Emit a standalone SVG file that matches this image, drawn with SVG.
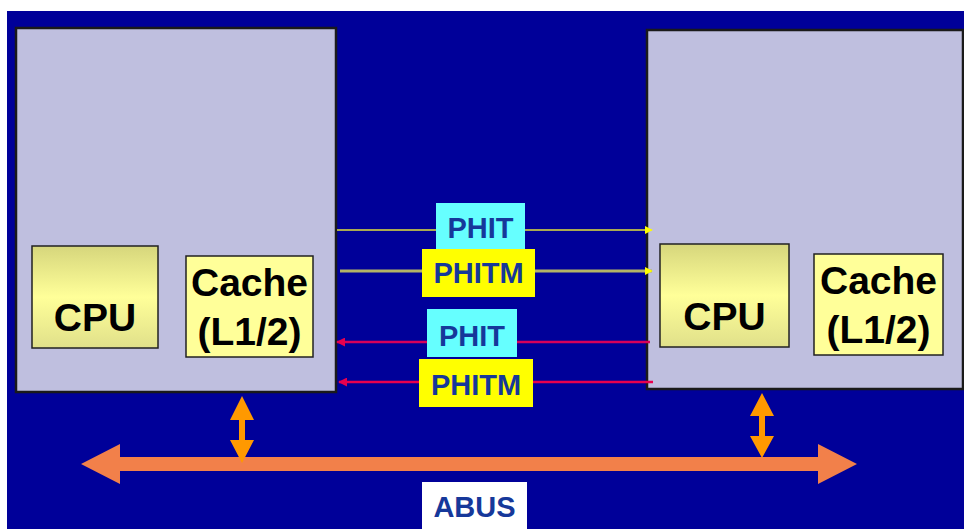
<svg xmlns="http://www.w3.org/2000/svg" width="964" height="529" viewBox="0 0 964 529">
<defs>
<linearGradient id="cpuGrad" x1="0" y1="0" x2="0" y2="1">
<stop offset="0" stop-color="#D6D67C"/>
<stop offset="0.5" stop-color="#FFFF99"/>
<stop offset="1" stop-color="#E0E08A"/>
</linearGradient>
<marker id="arrY" viewBox="0 0 10 10" refX="9" refY="5" markerWidth="8" markerHeight="8" markerUnits="userSpaceOnUse" orient="auto"><path d="M0,0 L10,5 L0,10 z" fill="#FFFF00"/></marker>
<marker id="arrR" viewBox="0 0 10 10" refX="9" refY="5" markerWidth="9" markerHeight="9" markerUnits="userSpaceOnUse" orient="auto"><path d="M0,0 L10,5 L0,10 z" fill="#E8004E"/></marker>
</defs>
<style>
.node{fill:#BFBFDF;stroke:#1a1a1a;stroke-width:2.5}
.cpu{fill:url(#cpuGrad);stroke:#222;stroke-width:1.5}
.cache{fill:#FFFF99;stroke:#222;stroke-width:1.5}
.big{font-family:"Liberation Sans",Arial,sans-serif;font-weight:bold;font-size:39px;fill:#000;text-anchor:middle}
.lbl{font-family:"Liberation Sans",Arial,sans-serif;font-weight:bold;font-size:29px;fill:#16389A;text-anchor:middle}
.cyan{fill:#66FFFF}
.yel{fill:#FFFF00}
.bus{fill:#F2804A}
.vbus{fill:#FF9900}
</style>
<rect x="7" y="11" width="957" height="518" fill="#000099"/>
<g id="node-left">
<rect x="16" y="28" width="320" height="364" class="node"/>
<rect x="32" y="246" width="126" height="102" class="cpu"/>
<text x="95" y="331" class="big">CPU</text>
<rect x="186" y="256" width="127" height="101" class="cache"/>
<text x="249.5" y="296" class="big">Cache</text>
<text x="249.5" y="345" class="big">(L1/2)</text>
</g>
<g id="node-right">
<rect x="647" y="30" width="316" height="359" class="node"/>
<rect x="660" y="244" width="129" height="103" class="cpu"/>
<text x="724.5" y="330" class="big">CPU</text>
<rect x="814" y="254" width="129" height="101" class="cache"/>
<text x="878.5" y="294" class="big">Cache</text>
<text x="878.5" y="343" class="big">(L1/2)</text>
</g>
<g id="connectors">
<line x1="337" y1="230" x2="652" y2="230" stroke="#E2E23A" stroke-width="1.5" marker-end="url(#arrY)"/>
<line x1="340" y1="271" x2="652" y2="271" stroke="#B3B366" stroke-width="3" marker-end="url(#arrY)"/>
<line x1="650" y1="342" x2="337" y2="342" stroke="#D8005A" stroke-width="2.5" marker-end="url(#arrR)"/>
<line x1="653" y1="382" x2="339" y2="382" stroke="#E8004E" stroke-width="2.5" marker-end="url(#arrR)"/>
<path class="bus" d="M81,464 L120,444 L120,457 L818,457 L818,444 L857,464 L818,484 L818,471 L120,471 L120,484 Z"/>
<path class="vbus" d="M242,396 L254,420 L245,420 L245,440 L254,440 L242,463 L230,440 L239,440 L239,420 L230,420 Z"/>
<path class="vbus" d="M762,393 L774,416 L765,416 L765,436 L774,436 L762,458 L750,436 L759,436 L759,416 L750,416 Z"/>
</g>
<g id="label-phit1">
<rect x="436" y="203" width="89" height="46" class="cyan"/>
<text x="480.5" y="238" class="lbl">PHIT</text>
</g>
<g id="label-phitm1">
<rect x="422" y="249" width="113" height="48" class="yel"/>
<text x="478.5" y="283" class="lbl">PHITM</text>
</g>
<g id="label-phit2">
<rect x="427" y="309" width="90" height="48" class="cyan"/>
<text x="472" y="346" class="lbl">PHIT</text>
</g>
<g id="label-phitm2">
<rect x="419" y="359" width="114" height="48" class="yel"/>
<text x="476" y="395" class="lbl">PHITM</text>
</g>
<g id="label-abus">
<rect x="422" y="482" width="105" height="47" fill="#FFFFFF"/>
<text x="474.5" y="517" class="lbl">ABUS</text>
</g>
</svg>
